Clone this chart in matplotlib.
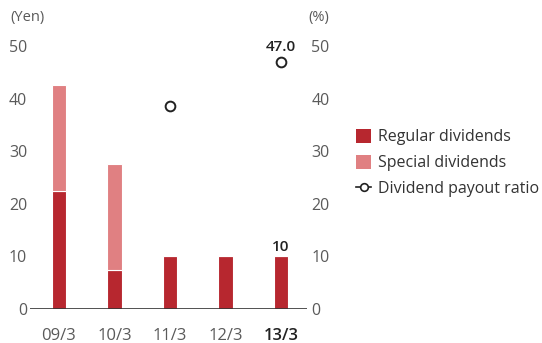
import matplotlib.pyplot as plt
from matplotlib.patches import Patch
from matplotlib.lines import Line2D

plt.rcParams['font.family'] = ['Open Sans', 'DejaVu Sans']

years = ["09/3", "10/3", "11/3", "12/3", "13/3"]
regular = [22.5, 7.5, 10, 10, 10]
special = [20, 20, 0, 0, 0]
payout_years = [2, 4]
payout = [38.5, 47.0]

RED = "#b7272f"
PINK = "#e08082"
GREY = "#5a5a5a"

fig = plt.figure(figsize=(5.42, 3.43), dpi=100)
ax = fig.add_axes([30 / 542, 34 / 343, 277 / 542, 263 / 343])
ax2 = ax.twinx()

x = list(range(len(years)))
ax.bar(x, regular, width=0.26, color=RED, edgecolor="white", linewidth=0.8, zorder=2)
ax.bar(x, special, bottom=regular, width=0.26, color=PINK, edgecolor="white", linewidth=0.8, zorder=2)

ax2.plot(payout_years, payout, linestyle="none", marker="o", markersize=7,
         markerfacecolor="white", markeredgecolor="#222222", markeredgewidth=1.4)

ax.set_xlim(-0.52, 4.47)
ax.set_ylim(0, 50)
ax2.set_ylim(0, 50)
ax.set_yticks([0, 10, 20, 30, 40, 50])
ax2.set_yticks([0, 10, 20, 30, 40, 50])

for a in (ax, ax2):
    for s in ("top", "left", "right", "bottom"):
        a.spines[s].set_visible(False)
ax.axhline(0, color="#333333", linewidth=1.2, zorder=3)

ax.tick_params(axis="y", length=0, pad=2, labelsize=11.5, labelcolor=GREY)
ax2.tick_params(axis="y", length=0, pad=3, labelsize=11.5, labelcolor=GREY)
ax.set_xticks(x)
ax.set_xticklabels(years)
ax.tick_params(axis="x", length=0, pad=14, labelsize=12, labelcolor=GREY)
last = ax.get_xticklabels()[-1]
last.set_fontweight("semibold")
last.set_color("#222222")

ax.text(4, regular[-1] + 0.5, "10", ha="center", va="bottom", fontsize=11,
        fontweight="semibold", color="#222222")
ax2.text(4, payout[-1] + 1.4, "47.0", ha="center", va="bottom", fontsize=11,
         fontweight="semibold", color="#222222")

fig.text(10 / 542, 1 - 17 / 343, "(Yen)", ha="left", va="center", fontsize=10.5, color=GREY)
fig.text(308 / 542, 1 - 17 / 343, "(%)", ha="left", va="center", fontsize=10.5, color=GREY)

handles = [
    Patch(facecolor=RED, edgecolor="none"),
    Patch(facecolor=PINK, edgecolor="none"),
    Line2D([], [], color="#222222", linewidth=1.2, marker="o", markersize=5.5,
           markerfacecolor="white", markeredgecolor="#222222", markeredgewidth=1.2),
]
labels = ["Regular dividends", "Special dividends", "Dividend payout ratio"]
leg = fig.legend(handles, labels, loc="upper left", bbox_to_anchor=(356 / 542, 1 - 129 / 343),
                 frameon=False, fontsize=11.5, handlelength=0.95, handleheight=0.95,
                 handletextpad=0.45, labelspacing=0.6, borderaxespad=0, borderpad=0)
for t in leg.get_texts():
    t.set_color("#333333")

fig.savefig("out.png", dpi=100)
